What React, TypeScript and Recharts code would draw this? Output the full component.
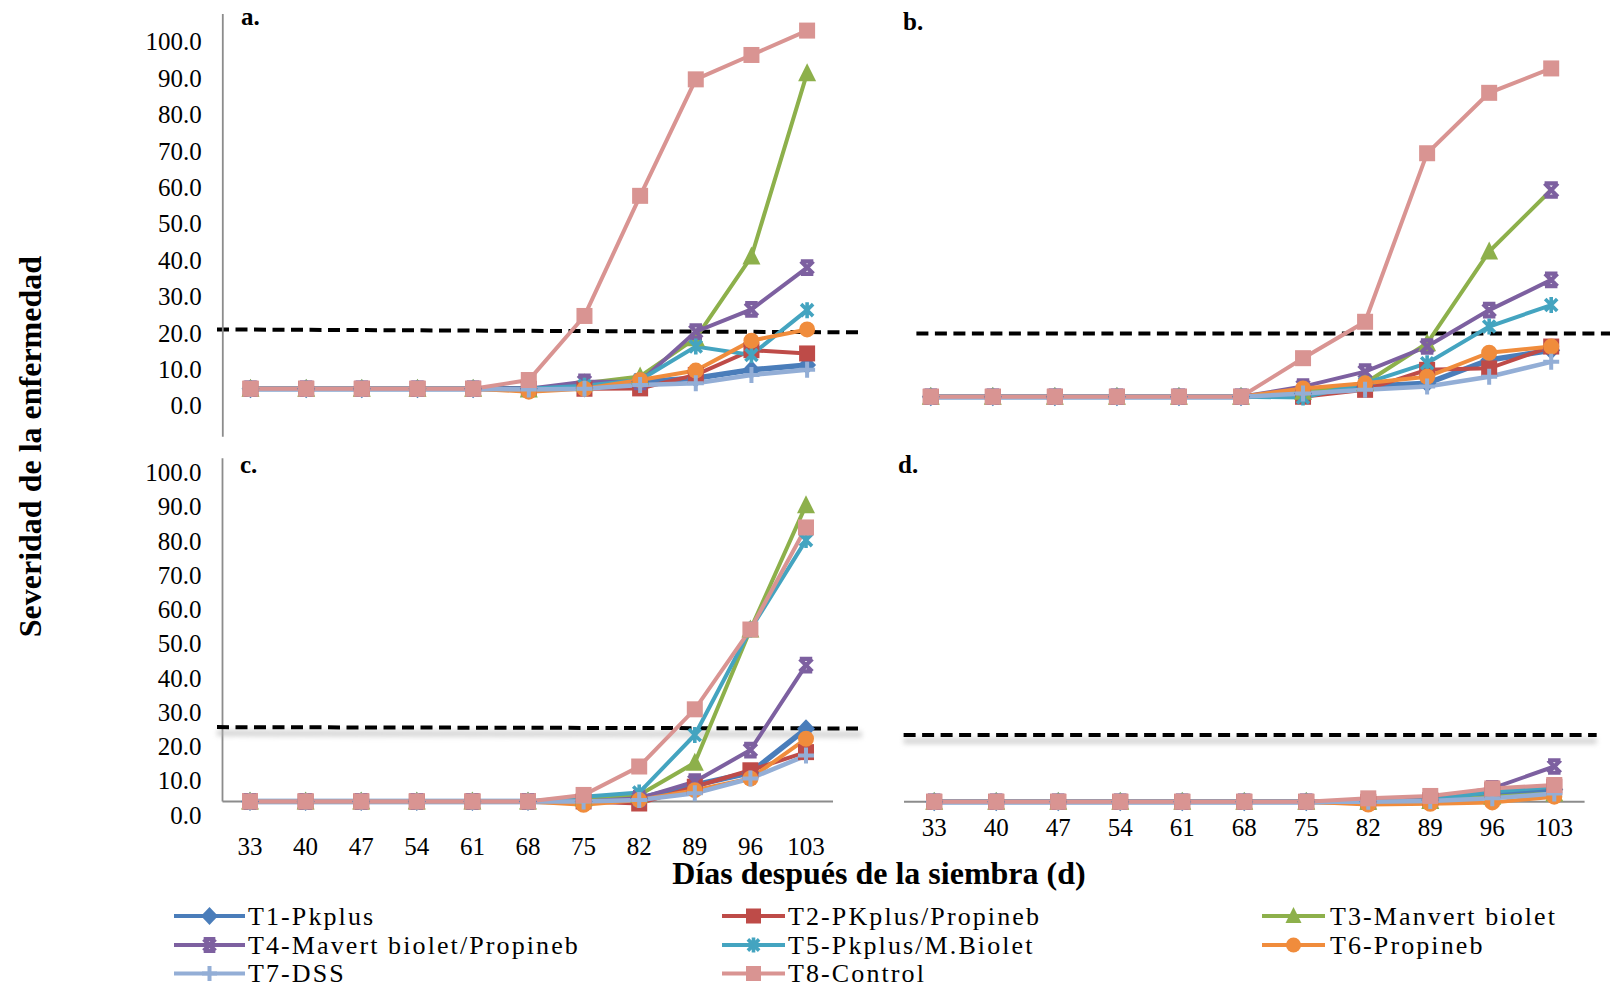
import React from 'react';
import { LineChart, Line, XAxis, YAxis, ReferenceLine } from 'recharts';

// Sampling days (días después de la siembra)
const DAYS = [33, 40, 47, 54, 61, 68, 75, 82, 89, 96, 103];
const Y_TICKS = [0, 10, 20, 30, 40, 50, 60, 70, 80, 90, 100];

const SERIES_KEYS = ['T1', 'T2', 'T3', 'T4', 'T5', 'T6', 'T7', 'T8'];
const SERIES_NAMES = [
  'T1-Pkplus',
  'T2-PKplus/Propineb',
  'T3-Manvert biolet',
  'T4-Mavert biolet/Propineb',
  'T5-Pkplus/M.Biolet',
  'T6-Propineb',
  'T7-DSS',
  'T8-Control',
];

// Disease severity per treatment (rows T1..T8), one list per panel
const SEVERITY_A = [
  [4.6, 4.6, 4.6, 4.6, 4.6, 4.6, 4.8, 6.5, 7.5, 9.8, 11.1],
  [4.6, 4.6, 4.6, 4.6, 4.6, 4.6, 4.6, 4.7, 8.4, 15.2, 14.3],
  [4.6, 4.6, 4.6, 4.6, 4.6, 4.4, 6.1, 8.0, 18.5, 40.9, 91.3],
  [4.6, 4.6, 4.6, 4.6, 4.6, 4.6, 6.5, 6.5, 20.3, 26.4, 37.9],
  [4.6, 4.6, 4.6, 4.6, 4.6, 4.6, 5.4, 7.0, 16.2, 13.9, 26.2],
  [4.6, 4.6, 4.6, 4.6, 4.6, 3.8, 4.6, 7.0, 9.6, 17.8, 20.9],
  [4.6, 4.6, 4.6, 4.6, 4.6, 4.4, 4.6, 5.6, 6.1, 8.4, 9.8],
  [4.6, 4.6, 4.6, 4.6, 4.6, 7.0, 24.6, 57.6, 89.6, 96.3, 103.0],
];

const SEVERITY_B = [
  [2.4, 2.4, 2.4, 2.4, 2.4, 2.4, 3.3, 5.2, 6.1, 12.5, 15.2],
  [2.4, 2.4, 2.4, 2.4, 2.4, 2.4, 2.4, 4.3, 9.8, 10.2, 16.2],
  [2.4, 2.4, 2.4, 2.4, 2.4, 2.4, 3.8, 6.1, 17.1, 42.3, 59.2],
  [2.4, 2.4, 2.4, 2.4, 2.4, 2.4, 5.2, 9.3, 16.2, 26.2, 34.5],
  [2.4, 2.4, 2.4, 2.4, 2.4, 2.4, 2.2, 6.1, 11.6, 21.7, 27.6],
  [2.4, 2.4, 2.4, 2.4, 2.4, 2.4, 4.7, 6.1, 7.9, 14.5, 16.2],
  [2.4, 2.4, 2.4, 2.4, 2.4, 2.4, 3.3, 4.3, 5.2, 7.9, 12.0],
  [2.4, 2.4, 2.4, 2.4, 2.4, 2.4, 13.0, 23.0, 69.3, 85.9, 92.6],
];

const SEVERITY_C = [
  [3.9, 3.9, 3.9, 3.9, 3.9, 3.9, 3.9, 4.8, 8.7, 12.3, 25.1],
  [3.9, 3.9, 3.9, 3.9, 3.9, 3.9, 3.9, 3.3, 8.2, 13.0, 18.3],
  [3.9, 3.9, 3.9, 3.9, 3.9, 3.9, 4.8, 5.8, 15.2, 54.1, 90.4],
  [3.9, 3.9, 3.9, 3.9, 3.9, 3.9, 3.9, 4.8, 9.7, 18.9, 43.7],
  [3.9, 3.9, 3.9, 3.9, 3.9, 3.9, 5.3, 6.5, 23.3, 54.1, 80.2],
  [3.9, 3.9, 3.9, 3.9, 3.9, 3.9, 2.9, 4.3, 7.2, 10.6, 22.2],
  [3.9, 3.9, 3.9, 3.9, 3.9, 3.9, 3.9, 4.3, 6.3, 10.6, 17.3],
  [3.9, 3.9, 3.9, 3.9, 3.9, 3.9, 5.8, 14.1, 30.8, 54.1, 83.9],
];

const SEVERITY_D = [
  [3.8, 3.8, 3.8, 3.8, 3.8, 3.8, 3.8, 3.8, 4.3, 6.2, 7.4],
  [3.8, 3.8, 3.8, 3.8, 3.8, 3.8, 3.8, 3.8, 4.3, 7.2, 8.2],
  [3.8, 3.8, 3.8, 3.8, 3.8, 3.8, 3.8, 3.8, 4.0, 5.3, 6.2],
  [3.8, 3.8, 3.8, 3.8, 3.8, 3.8, 3.8, 3.8, 4.8, 7.7, 14.1],
  [3.8, 3.8, 3.8, 3.8, 3.8, 3.8, 3.8, 3.8, 4.3, 6.7, 8.2],
  [3.8, 3.8, 3.8, 3.8, 3.8, 3.8, 3.8, 3.0, 3.2, 3.6, 5.3],
  [3.8, 3.8, 3.8, 3.8, 3.8, 3.8, 3.8, 3.8, 4.0, 4.8, 6.2],
  [3.8, 3.8, 3.8, 3.8, 3.8, 3.8, 3.8, 4.8, 5.5, 7.7, 8.7],
];

// Threshold lines (start value, end value)
const THRESHOLD_A = [20.9, 20.1];
const THRESHOLD_B = [19.8, 19.8];
const THRESHOLD_C = [25.6, 25.2];
const THRESHOLD_D = [23.3, 23.3];

// Level where the horizontal axis sits in panels c and d
const AXIS_BASE_C = 3.88;
const AXIS_BASE_D = 3.8;

// ---- styling ----
const COLORS = ['#4A7DBA', '#BE4B48', '#8DB04B', '#7D60A0', '#44A4C0', '#F08C3C', '#93AED6', '#D99492'];
const MARKERS = ['diamond', 'square', 'triangle', 'x', 'star', 'circle', 'plus', 'square'];
const WIDTHS = [5.5, 4, 4, 4, 4, 4, 4.5, 4];
const FONT = '"Liberation Serif", "Times New Roman", serif';
const AXIS_GRAY = '#8c8c8c';

type MarkerShape = 'diamond' | 'square' | 'triangle' | 'x' | 'star' | 'circle' | 'plus';

function drawMarker(shape: string, cx: number, cy: number, color: string, s: number) {
  const h = s / 2;
  switch (shape) {
    case 'diamond':
      return (
        <polygon
          points={`${cx},${cy - h - 1.5} ${cx + h + 1},${cy} ${cx},${cy + h + 1.5} ${cx - h - 1},${cy}`}
          fill={color}
        />
      );
    case 'square':
      return <rect x={cx - h} y={cy - h} width={s} height={s} fill={color} />;
    case 'triangle':
      return (
        <polygon
          points={`${cx},${cy - h - 1.5} ${cx + h + 0.5},${cy + h - 0.5} ${cx - h - 0.5},${cy + h - 0.5}`}
          fill={color}
        />
      );
    case 'circle':
      return <circle cx={cx} cy={cy} r={h} fill={color} />;
    case 'x': {
      const d = h * 0.78;
      return (
        <path
          d={`M${cx - d},${cy - d}L${cx + d},${cy + d}M${cx + d},${cy - d}L${cx - d},${cy + d}M${cx - d},${cy - d}L${cx + d},${cy - d}M${cx - d},${cy + d}L${cx + d},${cy + d}`}
          stroke={color}
          strokeWidth={4.2}
          fill="none"
        />
      );
    }
    case 'star': {
      const d = h * 0.75;
      return (
        <path
          d={`M${cx - d},${cy - d}L${cx + d},${cy + d}M${cx + d},${cy - d}L${cx - d},${cy + d}M${cx},${cy - h}L${cx},${cy + h}`}
          stroke={color}
          strokeWidth={3.6}
          fill="none"
        />
      );
    }
    case 'plus':
      return (
        <path
          d={`M${cx - h},${cy}L${cx + h},${cy}M${cx},${cy - h}L${cx},${cy + h}`}
          stroke={color}
          strokeWidth={4}
          fill="none"
        />
      );
    default:
      return null;
  }
}

type Override = { [index: number]: { shape: MarkerShape; color: string } };

const makeDot = (shape: string, color: string, size: number, overrides?: Override) => (props: any) => {
  const { cx, cy, index } = props;
  if (cx == null || cy == null) return <g key={`dot-${index}`} />;
  const ov = overrides ? overrides[index] : undefined;
  return (
    <g key={`dot-${index}`}>{drawMarker(ov ? ov.shape : shape, cx, cy, ov ? ov.color : color, size)}</g>
  );
};

function buildRows(values: number[][]) {
  return DAYS.map((day, i) => {
    const row: any = { day };
    SERIES_KEYS.forEach((k, s) => {
      row[k] = values[s][i];
    });
    return row;
  });
}

type PanelCfg = {
  left: number;
  top: number;
  width: number;
  height: number;
  margin: { top: number; right: number; bottom: number; left: number };
  yWidth: number;
  showY: boolean;
  yAxisLine: boolean;
  showX: boolean;
  xDomain: [number, number];
  yDomain: [number, number];
  values: number[][];
  threshold: number[];
  thresholdX: [number, number];
  shadow: boolean;
  axisBase?: number;
  axisStartX?: number;
  axisEndX?: number;
  drawYLine?: boolean;
  markerOverrides?: { [series: number]: Override };
};

const PANELS: PanelCfg[] = [
  {
    left: 0, top: 0, width: 880, height: 450,
    margin: { top: 14, right: 17.5, bottom: 13.3, left: 0 },
    yWidth: 222.8, showY: true, yAxisLine: true, showX: false,
    xDomain: [29.516, 109.967], yDomain: [-8.571, 107.555],
    values: SEVERITY_A, threshold: THRESHOLD_A, thresholdX: [28.787, 109.967], shadow: false,
  },
  {
    left: 880, top: 0, width: 730, height: 450,
    margin: { top: 14, right: 0, bottom: 13.3, left: 36.4 },
    yWidth: 0, showY: false, yAxisLine: false, showX: false,
    xDomain: [31.375, 109.634], yDomain: [-8.571, 107.555],
    values: SEVERITY_B, threshold: THRESHOLD_B, thresholdX: [31.375, 109.634], shadow: false,
    markerOverrides: { 2: { 10: { shape: 'x', color: COLORS[3] } } },
  },
  {
    left: 0, top: 450, width: 880, height: 420,
    margin: { top: 8.3, right: 18, bottom: 0, left: 0 },
    yWidth: 222.5, showY: true, yAxisLine: false, showX: true,
    xDomain: [29.538, 110.05], yDomain: [-4.438, 104.09],
    values: SEVERITY_C, threshold: THRESHOLD_C, thresholdX: [28.846, 110.05], shadow: true,
    axisBase: AXIS_BASE_C, axisStartX: 29.538, axisEndX: 106.4, drawYLine: true,
  },
  {
    left: 880, top: 450, width: 730, height: 401.7,
    margin: { top: 8.3, right: 10, bottom: 0, left: 23.6 },
    yWidth: 0, showY: false, yAxisLine: false, showX: true,
    xDomain: [29.546, 108.159], yDomain: [0.905, 104.09],
    values: SEVERITY_D, threshold: THRESHOLD_D, thresholdX: [29.546, 107.786], shadow: true,
    axisBase: AXIS_BASE_D, axisStartX: 29.591, axisEndX: 106.42, drawYLine: false,
  },
];

function Panel({ cfg }: { cfg: PanelCfg }) {
  const rows = buildRows(cfg.values);
  const [t0, t1] = cfg.threshold;
  const [x0, x1] = cfg.thresholdX;
  const shadowShift = 1.75;
  return (
    <div style={{ position: 'absolute', left: cfg.left, top: cfg.top }}>
      <LineChart width={cfg.width} height={cfg.height} data={rows} margin={cfg.margin}>
        <XAxis
          dataKey="day"
          type="number"
          domain={cfg.xDomain}
          ticks={DAYS}
          interval={0}
          hide={!cfg.showX}
          height={40}
          axisLine={false}
          tickLine={false}
          tickSize={0}
          tickMargin={7}
          tick={{ fontFamily: FONT, fontSize: 25, fill: '#000' }}
        />
        <YAxis
          type="number"
          domain={cfg.yDomain}
          ticks={Y_TICKS}
          interval={0}
          hide={!cfg.showY}
          width={cfg.yWidth}
          axisLine={cfg.yAxisLine ? { stroke: AXIS_GRAY, strokeWidth: 1.8 } : false}
          tickLine={false}
          tickSize={0}
          tickMargin={21}
          tickFormatter={(v: number) => v.toFixed(1)}
          tick={{ fontFamily: FONT, fontSize: 25, fill: '#000' }}
        />
        {cfg.axisBase !== undefined && (
          <ReferenceLine
            segment={[
              { x: cfg.axisStartX, y: cfg.axisBase },
              { x: cfg.axisEndX, y: cfg.axisBase },
            ]}
            stroke={AXIS_GRAY}
            strokeWidth={2}
            ifOverflow="visible"
          />
        )}
        {cfg.drawYLine && (
          <ReferenceLine
            segment={[
              { x: cfg.axisStartX, y: cfg.axisBase },
              { x: cfg.axisStartX, y: cfg.yDomain[1] },
            ]}
            stroke={AXIS_GRAY}
            strokeWidth={1.8}
            ifOverflow="visible"
          />
        )}
        {cfg.shadow && (
          <ReferenceLine
            className="threshold-shadow"
            segment={[
              { x: x0, y: t0 - shadowShift },
              { x: x1, y: t1 - shadowShift },
            ]}
            stroke="#b0b0b0"
            strokeWidth={6}
            strokeOpacity={0.55}
            ifOverflow="visible"
          />
        )}
        <ReferenceLine
          segment={[
            { x: x0, y: t0 },
            { x: x1, y: t1 },
          ]}
          stroke="#000"
          strokeWidth={4}
          strokeDasharray="12 6.5"
          ifOverflow="visible"
        />
        {SERIES_KEYS.map((k, s) => (
          <Line
            key={k}
            dataKey={k}
            type="linear"
            stroke={COLORS[s]}
            strokeWidth={WIDTHS[s]}
            dot={makeDot(MARKERS[s], COLORS[s], s === 2 ? 17 : 16, cfg.markerOverrides ? cfg.markerOverrides[s] : undefined)}
            activeDot={false}
            isAnimationActive={false}
          />
        ))}
      </LineChart>
    </div>
  );
}

// Legend layout: three columns, filled row by row
const LEGEND_COLS = [
  { x1: 174, x2: 245, tx: 248 },
  { x1: 722, x2: 785, tx: 788 },
  { x1: 1262, x2: 1325, tx: 1330 },
];
const LEGEND_ROWS = [916, 945, 973.5];

function Legend() {
  return (
    <g>
      {SERIES_NAMES.map((name, s) => {
        const col = LEGEND_COLS[s % 3];
        const y = LEGEND_ROWS[Math.floor(s / 3)];
        const cx = (col.x1 + col.x2) / 2;
        return (
          <g key={name}>
            <line x1={col.x1} y1={y} x2={col.x2} y2={y} stroke={COLORS[s]} strokeWidth={4} />
            {drawMarker(MARKERS[s], cx, y, COLORS[s], 15)}
            <text
              x={col.tx}
              y={y + 8.5}
              fontFamily={FONT}
              fontSize={26}
              letterSpacing={2.1}
              fill="#000"
            >
              {name}
            </text>
          </g>
        );
      })}
    </g>
  );
}

export default function App() {
  const bold = { fontFamily: FONT, fontWeight: 700 as const, fill: '#000' };
  return (
    <div
      style={{
        position: 'absolute',
        left: 0,
        top: 0,
        width: 1610,
        height: 989,
        background: '#fff',
        overflow: 'hidden',
      }}
    >
      <style>{`.threshold-shadow line { filter: blur(2.5px); }`}</style>
      {PANELS.map((p, i) => (
        <Panel key={i} cfg={p} />
      ))}
      <svg
        width={1610}
        height={989}
        style={{ position: 'absolute', left: 0, top: 0, pointerEvents: 'none' }}
      >
        <text x={241} y={25} fontSize={25} {...bold}>a.</text>
        <text x={903} y={30} fontSize={25} {...bold}>b.</text>
        <text x={240} y={473} fontSize={25} {...bold}>c.</text>
        <text x={898} y={473} fontSize={25} {...bold}>d.</text>
        <text
          transform="translate(41,446.6) rotate(-90)"
          textAnchor="middle"
          fontSize={32}
          {...bold}
        >
          Severidad de la enfermedad
        </text>
        <text x={879} y={884} textAnchor="middle" fontSize={32} {...bold}>
          Días después de la siembra (d)
        </text>
        <Legend />
      </svg>
    </div>
  );
}
